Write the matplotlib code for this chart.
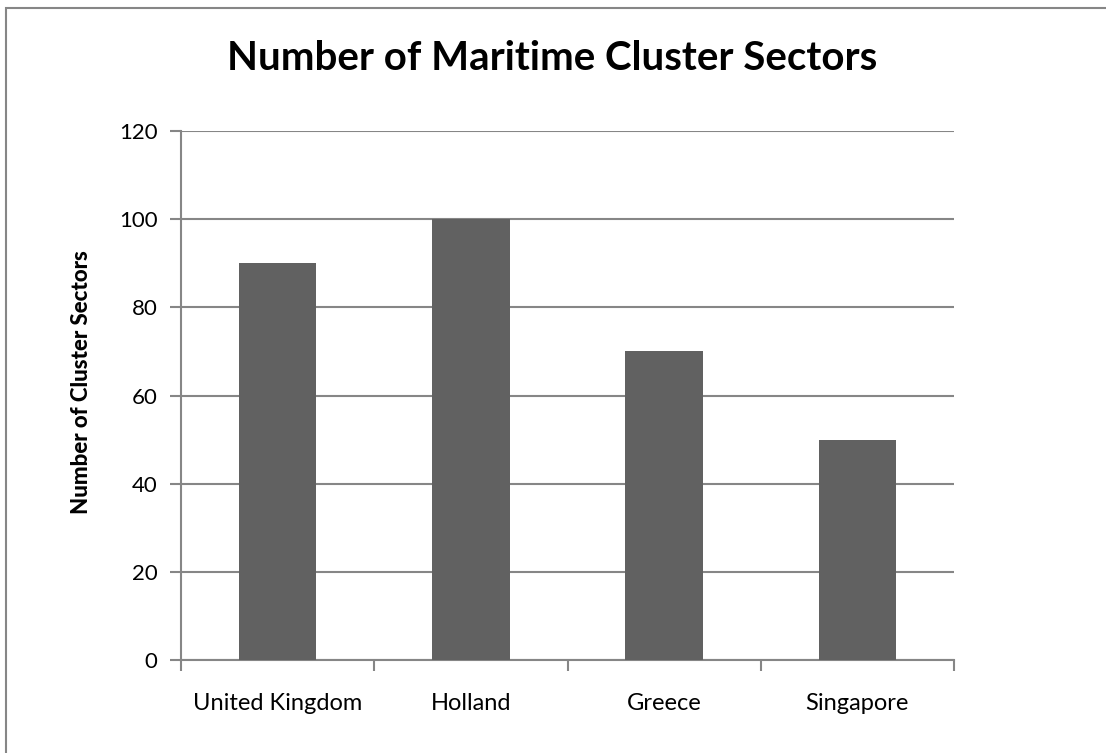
import matplotlib
matplotlib.use("Agg")
import matplotlib.pyplot as plt
from matplotlib.patches import Rectangle

countries = ["United Kingdom", "Holland", "Greece", "Singapore"]
sectors = [90, 100, 70, 50]
y_ticks = [0, 20, 40, 60, 80, 100, 120]

plt.rcParams["font.family"] = ["Lato", "DejaVu Sans"]

GRID = "#868686"
BAR = "#616161"

fig = plt.figure(figsize=(11.06, 7.53), dpi=100)
ax = fig.add_axes([181 / 1106, 1 - 660 / 753, (954 - 181) / 1106, (660 - 131) / 753])

# outer chart-area frame (only top/left edges fall inside the canvas)
fig.patches.append(Rectangle((6 / 1106, -0.1), 1.2, 1 - 8 / 753 + 0.1,
                             transform=fig.transFigure, fill=False,
                             edgecolor=GRID, linewidth=1.5))

x = list(range(len(countries)))
ax.bar(x, sectors, width=0.4, color=BAR, zorder=3)

ax.set_xlim(-0.5, len(countries) - 0.5)
ax.set_ylim(0, 120)
ax.set_yticks(y_ticks)
ax.set_yticklabels([str(v) for v in y_ticks], fontsize=16)
ax.set_xticks(x)
ax.set_xticklabels(countries, fontsize=17)
ax.tick_params(axis="x", length=0, pad=24)
ax.tick_params(axis="y", length=8, width=1.5, color=GRID, pad=9)

# category boundary ticks on the x-axis
ax.set_xticks([i - 0.5 for i in range(len(countries) + 1)], minor=True)
ax.tick_params(axis="x", which="minor", length=8, width=1.5, color=GRID)

ax.grid(axis="y", color=GRID, linewidth=1.5, zorder=0)
for s in ["top", "right"]:
    ax.spines[s].set_visible(False)
for s in ["left", "bottom"]:
    ax.spines[s].set_color(GRID)
    ax.spines[s].set_linewidth(1.5)

fig.text(82 / 1106, 1 - 382 / 753, "Number of Cluster Sectors", rotation=90,
         ha="center", va="center", fontsize=16, fontweight=900)
fig.text(552 / 1106, 1 - 58 / 753, "Number of Maritime Cluster Sectors",
         ha="center", va="center", fontsize=29, fontweight="bold")

fig.savefig("out.png", dpi=100, facecolor="white")
